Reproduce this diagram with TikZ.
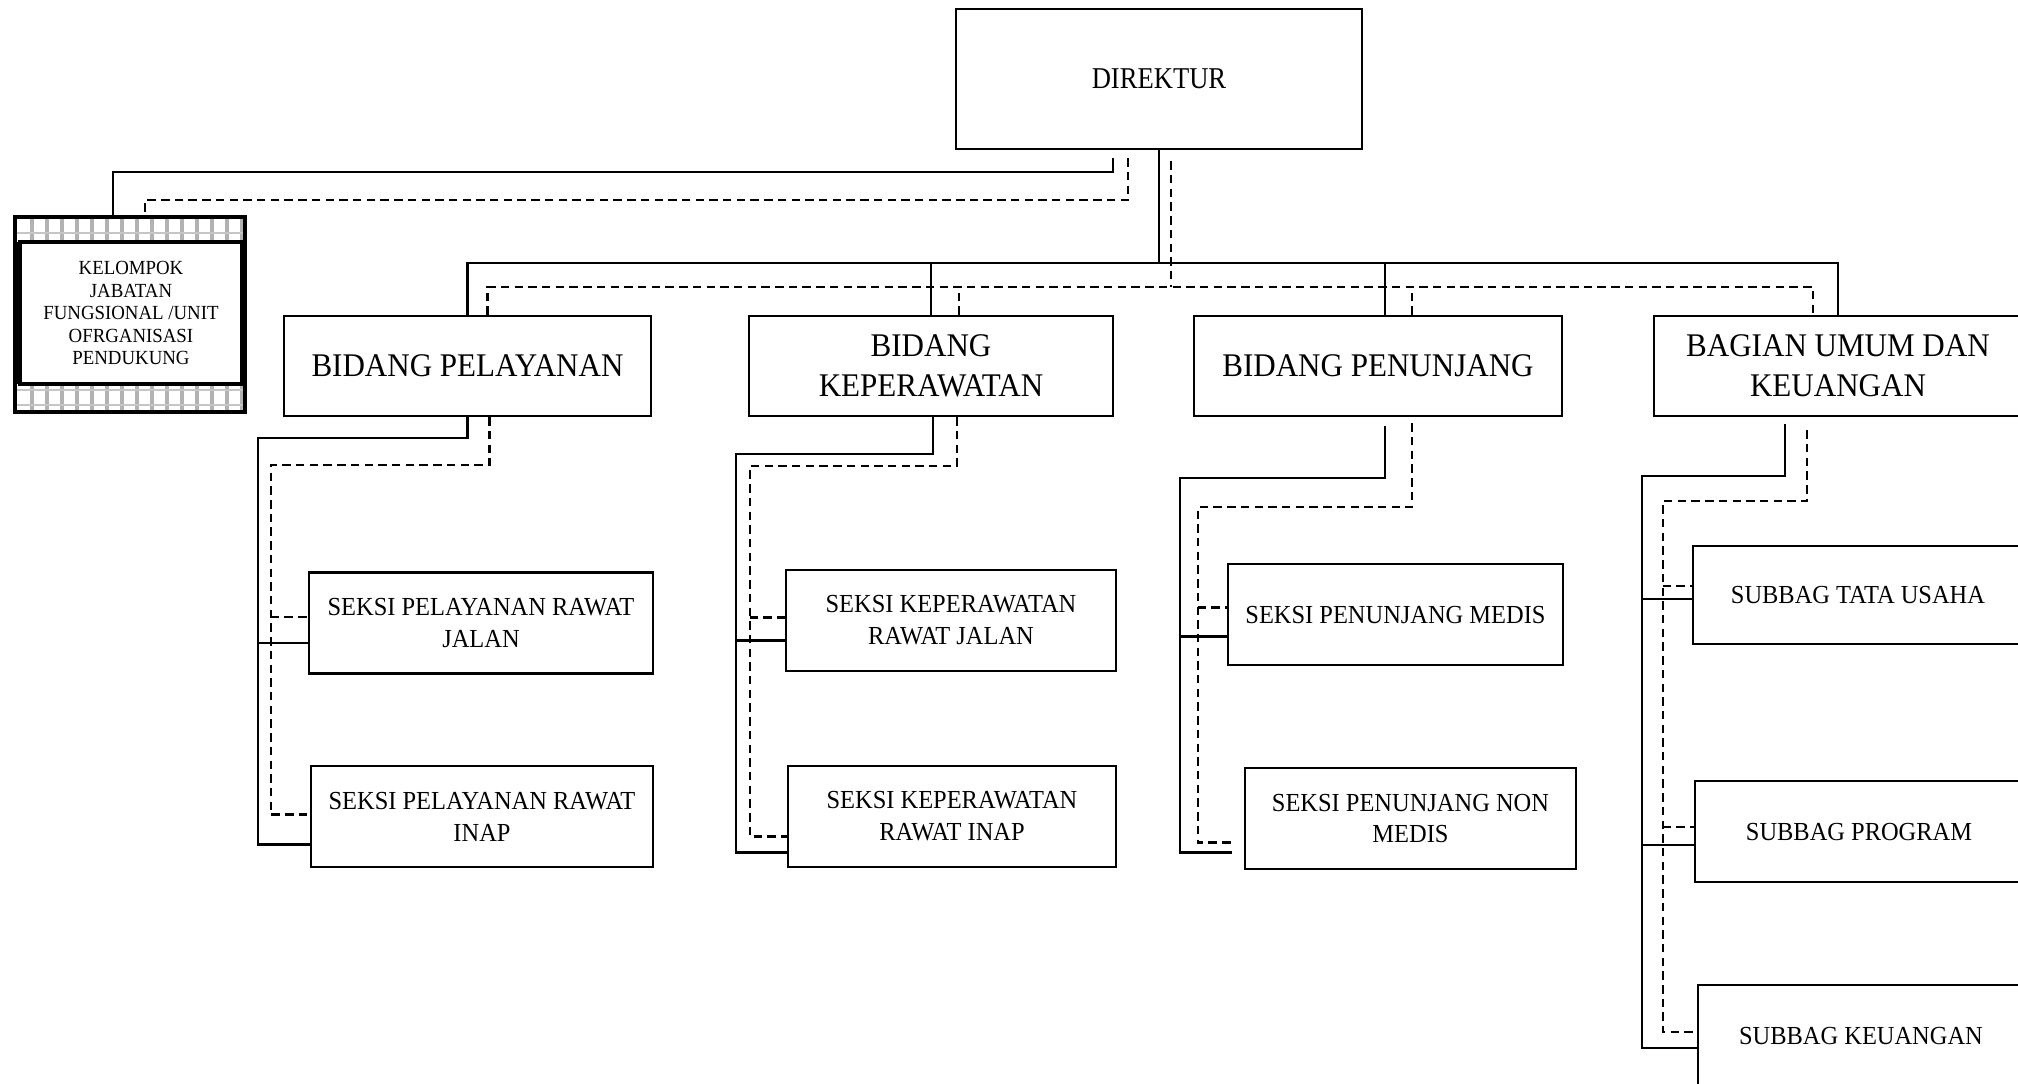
\documentclass[tikz,border=0pt]{standalone}
\usepackage{fontspec}
\setmainfont{Liberation Serif}[FakeStretch=0.88]
\newfontfamily\boxfont{Liberation Serif}[FakeStretch=0.94]
\usetikzlibrary{calc}

\begin{document}
\begin{tikzpicture}[x=0.1mm, y=-0.1mm,
    sline/.style={line width=0.6pt},
    dline/.style={line width=0.6pt, dash pattern=on 2.4pt off 1.5pt},
    unitbox/.style={draw, line width=0.75pt, align=center, inner sep=0pt,
        minimum height=10mm, font=\boxfont\fontsize{9.4}{11.4}\selectfont},
    seksibox/.style={draw, line width=0.75pt, align=center, inner sep=0pt,
        minimum height=10.1mm, font=\boxfont\fontsize{7.4}{9.1}\selectfont}]
    \useasboundingbox (0,0) rectangle (2018,1083);

    % Top box
    \node[draw, line width=0.75pt, minimum width=40.6mm, minimum height=14mm,
        font=\fontsize{8.6}{10}\selectfont] (dir) at (1159,79) {DIREKTUR};

    % Left box with checkered rim
    \foreach \x in {32,47,...,242} {
        \draw[gray!60, line width=1.1pt] (\x,217) -- (\x,242);
        \draw[gray!60, line width=1.1pt] (\x,384) -- (\x,412);
    }
    \foreach \y in {233,390,405}
        \draw[gray!45, line width=0.8pt] (15,\y) -- (245,\y);
    \node[draw, line width=0.9pt, minimum width=23mm, minimum height=19.5mm] (kel) at (130,314.5) {};
    \draw[line width=1.2pt] (17.5,242) -- (17.5,384);
    \node[draw, fill=white, line width=1.1pt, minimum width=22.2mm, minimum height=14.2mm,
        align=center, inner sep=0pt, font=\boxfont\fontsize{5.7}{6.4}\selectfont] (kelin) at (131,313)
        {KELOMPOK\\JABATAN\\FUNGSIONAL /UNIT\\OFRGANISASI\\PENDUKUNG};

    % Second row
    \node[unitbox, minimum width=36.7mm] (pel) at (467.5,366) {BIDANG PELAYANAN};
    \node[unitbox, minimum width=36.4mm] (kep) at (931,366) {BIDANG\\KEPERAWATAN};
    \node[unitbox, minimum width=36.8mm] (pen) at (1378,366) {BIDANG PENUNJANG};
    \node[unitbox, minimum width=36.8mm] (bag) at (1838,366) {BAGIAN UMUM DAN\\KEUANGAN};

    % Third row
    \node[seksibox, minimum width=34.4mm] (s1) at (481,623) {SEKSI PELAYANAN RAWAT\\JALAN};
    \node[seksibox, minimum width=34.2mm] (s2) at (482,816.5) {SEKSI PELAYANAN RAWAT\\INAP};
    \node[seksibox, minimum width=33mm] (s3) at (951,620.5) {SEKSI KEPERAWATAN\\RAWAT JALAN};
    \node[seksibox, minimum width=32.8mm] (s4) at (952,816.5) {SEKSI KEPERAWATAN\\RAWAT INAP};
    \node[seksibox, minimum width=33.5mm] (s5) at (1395.5,614.5) {SEKSI PENUNJANG MEDIS};
    \node[seksibox, minimum width=33.1mm] (s6) at (1410.5,818.5) {SEKSI PENUNJANG NON\\MEDIS};
    \node[seksibox, minimum width=33mm, minimum height=9.8mm] (s7) at (1858,595) {SUBBAG TATA USAHA};
    \node[seksibox, minimum width=32.8mm] (s8) at (1859,831.5) {SUBBAG PROGRAM};
    \node[seksibox, minimum width=32.6mm, minimum height=10.2mm] (s9) at (1861,1036) {SUBBAG KEUANGAN};

    % Bus lines under the top box
    \coordinate (sbus) at (1159,263);
    \coordinate (dbus) at (1171,287);
    \draw[sline] (dir.south) -- (sbus);
    \draw[sline] (pel.north) |- (sbus) -| (bag.north);
    \draw[sline] (kep.north) -- (kep.north |- sbus);
    \coordinate (pdrop) at ($(pen.north)+(7,0)$);
    \draw[sline] (pdrop) -- (pdrop |- sbus);
    \draw[dline] ($(dir.south)+(12,11)$) -- (dbus);
    \coordinate (d1) at ($(pel.north)+(20,0)$);
    \coordinate (d2) at ($(kep.north)+(28,0)$);
    \coordinate (d3) at ($(pen.north)+(34,0)$);
    \coordinate (d4) at ($(bag.north)+(-25,0)$);
    \draw[dline] (d1) |- (dbus) -| (d4);
    \draw[dline] (d2) -- (d2 |- dbus);
    \draw[dline] (d3) -- (d3 |- dbus);

    % Left box links
    \draw[sline] ($(dir.south)+(-46,8)$) |- ($(kel.north)+(-17,-43)$) -- ($(kel.north)+(-17,0)$);
    \draw[dline] ($(dir.south)+(-31,8)$) |- ($(kel.north)+(15,-15)$) -- ($(kel.north)+(15,0)$);

    % Pelayanan sections
    \draw[sline] (pel.south) -- ++(0,21) -| ($(s2.west)+(-52,28)$) -- ($(s2.west)+(0,28)$);
    \draw[sline] ($(s1.west)+(-50,20)$) -- ($(s1.west)+(0,20)$);
    \draw[dline] ($(pel.south)+(22,0)$) -- ++(0,48) -| ($(s2.west)+(-39,-2)$) -- ($(s2.west)+(0,-2)$);
    \draw[dline] ($(s1.west)+(-37,-6)$) -- ($(s1.west)+(0,-6)$);

    % Keperawatan sections
    \draw[sline] ($(kep.south)+(2,0)$) -- ++(0,37) -| ($(s4.west)+(-51,36)$) -- ($(s4.west)+(0,36)$);
    \draw[sline] ($(s3.west)+(-49,20)$) -- ($(s3.west)+(0,20)$);
    \draw[dline] ($(kep.south)+(26,0)$) -- ++(0,49) -| ($(s4.west)+(-37,20)$) -- ($(s4.west)+(0,20)$);
    \draw[dline] ($(s3.west)+(-35,-3)$) -- ($(s3.west)+(0,-3)$);

    % Penunjang sections
    \draw[sline] ($(pen.south)+(7,9)$) -- ++(0,52) -| ($(s6.west)+(-64,34)$) -- ($(s6.west)+(-12,34)$);
    \draw[sline] ($(s5.west)+(-47,22)$) -- ($(s5.west)+(0,22)$);
    \draw[dline] ($(pen.south)+(34,6)$) -- ++(0,84) -| ($(s6.west)+(-46,24)$) -- ($(s6.west)+(-8,24)$);
    \draw[dline] ($(s5.west)+(-29,-7)$) -- ($(s5.west)+(0,-7)$);

    % Umum dan keuangan subsections
    \draw[sline] ($(bag.south)+(-53,7)$) -- ++(0,52) -| ($(s9.west)+(-55,12)$) -- ($(s9.west)+(0,12)$);
    \draw[sline] ($(s7.west)+(-50,4)$) -- ($(s7.west)+(0,4)$);
    \draw[sline] ($(s8.west)+(-52,13.5)$) -- ($(s8.west)+(0,13.5)$);
    \draw[dline] ($(bag.south)+(-31,13)$) -- ++(0,71) -| ($(s9.west)+(-34,-4)$) -- ($(s9.west)+(0,-4)$);
    \draw[dline] ($(s7.west)+(-29,-9)$) -- ($(s7.west)+(0,-9)$);
    \draw[dline] ($(s8.west)+(-31,-4.5)$) -- ($(s8.west)+(0,-4.5)$);
\end{tikzpicture}
\end{document}
